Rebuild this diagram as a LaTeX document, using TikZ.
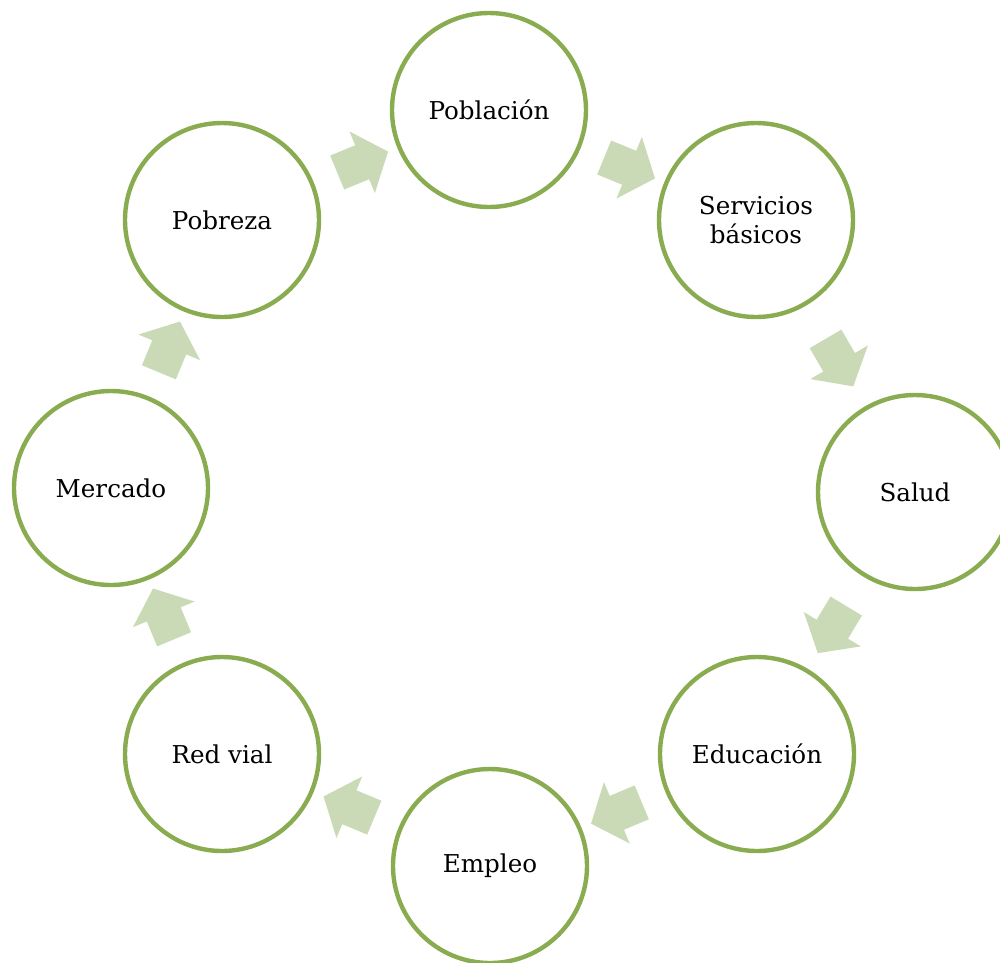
\documentclass[tikz,border=0pt]{standalone}
\usepackage{fontspec}
\setmainfont{DejaVu Serif}
\usepackage{tikz}
\usepackage{xcolor}
\usetikzlibrary{shapes.arrows, calc}
\definecolor{ringcolor}{RGB}{138,172,80}
\definecolor{arrowfill}{RGB}{202,218,182}

\begin{document}
\begin{tikzpicture}[
  every node/.style={align=center},
  stage/.style={
    draw=ringcolor, circle, fill=white, line width=2.5pt,
    minimum size=3.88cm, inner sep=0pt,
    font=\fontsize{14}{17}\selectfont
  },
  cyclearr/.style={
    single arrow, fill=arrowfill, draw=none,
    minimum height=1.1cm, inner xsep=0pt, inner ysep=0.36cm,
    single arrow head extend=0.3cm, single arrow tip angle=100
  },
]

%% ─── Frame (same size as the page) ───────────────────────────────────────────

\clip (0,0) rectangle (20,-19.24);

%% ─── Cycle stages ────────────────────────────────────────────────────────────

\node[stage] (pobl)   at ( 9.78, -2.20) {Población};
\node[stage] (serv)   at (15.12, -4.40) {Servicios\\básicos};
\node[stage] (salud)  at (18.30, -9.84) {Salud};
\node[stage] (educ)   at (15.14,-15.08) {Educación};
\node[stage] (empleo) at ( 9.80,-17.32) {Empleo};
\node[stage] (redv)   at ( 4.44,-15.08) {Red vial};
\node[stage] (merc)   at ( 2.22, -9.76) {Mercado};
\node[stage] (pobr)   at ( 4.44, -4.40) {Pobreza};

%% ─── Block arrows half way between neighbours ────────────────────────────────

\foreach \from/\to/\ang in {pobr/pobl/22.4, pobl/serv/-22.4, serv/salud/-59.7,
                            salud/educ/-121.1, educ/empleo/-157.2,
                            empleo/redv/157.3, redv/merc/112.6, merc/pobr/67.5}{
  \node[cyclearr, rotate=\ang] (arr-\from) at ($(\from)!0.5!(\to)$) {};
}

\end{tikzpicture}
\end{document}
